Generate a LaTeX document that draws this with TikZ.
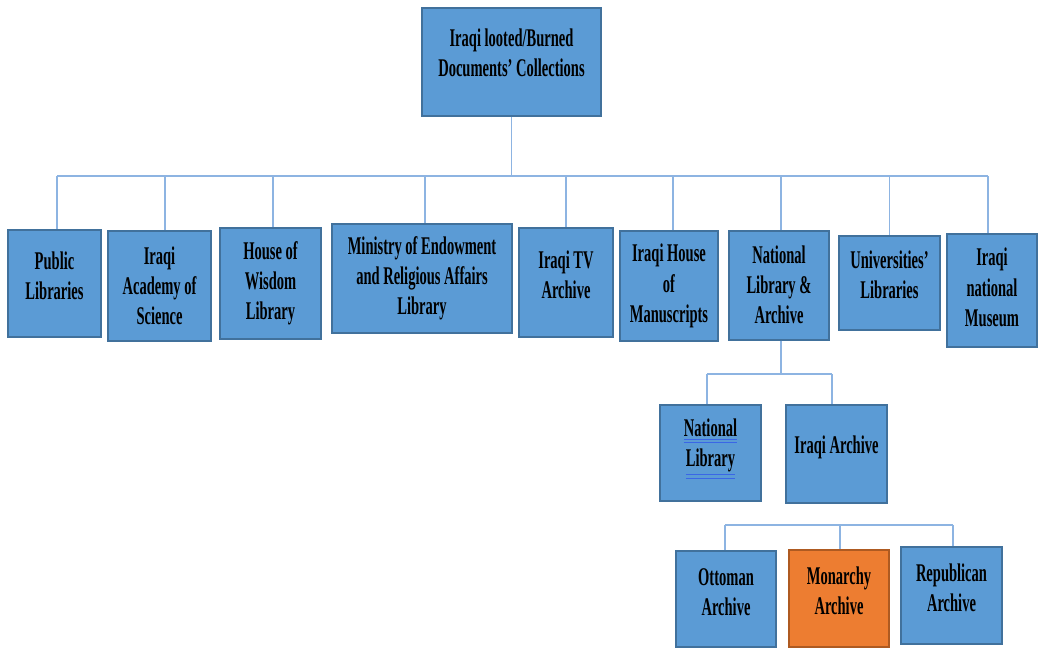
\documentclass[tikz,border=0pt]{standalone}
\usepackage{fontspec}
\setmainfont{Liberation Serif}[FakeStretch=0.57]
\usepackage{tikz}
\usetikzlibrary{calc}
\definecolor{boxblue}{HTML}{5B9BD5}
\definecolor{boxedge}{HTML}{41719C}
\definecolor{boxorange}{HTML}{ED7D31}
\definecolor{orangeedge}{HTML}{AE5A21}
\definecolor{linkline}{HTML}{8DB4E2}
\definecolor{ulblue}{HTML}{3A66E6}
\newcommand{\clrbox}{boxblue}
\newcommand{\clredge}{boxedge}
\newcommand{\linked}[1]{{\color{ulblue}\underline{\underline{\color{black}#1}}}}

\begin{document}
\begin{tikzpicture}[x=0.02cm, y=-0.02cm,
    box/.style={draw=\clredge, fill=\clrbox, line width=0.6pt, inner sep=0pt},
    boxtext/.style={align=center, inner sep=0pt, font=\fontsize{14.5}{17.2}\selectfont\bfseries},
    link/.style={draw=linkline, line width=0.8pt}]

        \useasboundingbox (0,0) rectangle (1038,647);

        % boxes
        \foreach \n/\x/\y/\w/\h/\s/\t in {
            top/511.5/62/179/108/9/{Iraqi looted/Burned\\Documents’ Collections},
            pub/54.5/283.5/93/107/8/{Public\\Libraries},
            acad/159.5/286/103/110/0/{Iraqi\\Academy of\\Science},
            wis/270.5/283.5/101/111/0/{House of\\Wisdom\\Library},
            min/422/278.5/180/109/0/{Ministry of Endowment\\and Religious Affairs\\Library},
            tv/566/282.5/94/109/8/{Iraqi TV\\Archive},
            manu/669/286/98/110/0/{Iraqi House\\of\\Manuscripts},
            nla/779/285.5/100/109/1/{National\\Library \&\\Archive},
            uni/889.5/283/101/94/8/{Universities’\\Libraries},
            mus/992/290.5/90/113/3/{Iraqi\\national\\Museum},
            nl/710.5/453/101/96/4/{\linked{National}\\\linked{Library}},
            ia/836.5/454/101/98/7/{Iraqi Archive},
            ott/726/599/100/96/7/{Ottoman\\Archive},
            rep/951.5/595.5/101/97/8/{Republican\\Archive}}
        {
            \node[box, minimum width=\w*0.02cm, minimum height=\h*0.02cm,
                label={[boxtext, yshift=\s*0.02cm]center:\t}] (\n) at (\x,\y) {};
        }
        \node[box, fill=boxorange, draw=orangeedge, minimum width=2cm, minimum height=1.94cm,
            label={[boxtext, yshift=0.16cm]center:Monarchy\\Archive}] (mon) at (839,598.5) {};

        % first level
        \coordinate (bus) at (511,176);
        \draw[link] (top.south) -- (top.south |- bus);
        \draw[link] ($(pub.north |- bus)+(2.5,0)$) -- ($(mus.north |- bus)+(-4,0)$);
        \foreach \n/\d in {pub/2.5,acad/5.5,wis/2.5,min/3,tv/0,manu/4,nla/2,uni/0,mus/-4} {
            \draw[link] ($(\n.north |- bus)+(\d,0)$) -- ($(\n.north)+(\d,0)$);
        }

        % national library & archive
        \coordinate (sub) at (781,374);
        \draw[link] ($(nla.south)+(2,0)$) -- (sub);
        \draw[link] ($(nl.north |- sub)+(-3.5,0)$) -- ($(ia.north |- sub)+(-4.5,0)$);
        \foreach \n/\d in {nl/-3.5,ia/-4.5} {
            \draw[link] ($(\n.north |- sub)+(\d,0)$) -- ($(\n.north)+(\d,0)$);
        }

        % archive periods
        \coordinate (arch) at (840,525);
        \draw[link] ($(ott.north |- arch)+(-1,0)$) -- ($(rep.north |- arch)+(1.5,0)$);
        \foreach \n/\d in {ott/-1,mon/1,rep/1.5} {
            \draw[link] ($(\n.north |- arch)+(\d,0)$) -- ($(\n.north)+(\d,0)$);
        }

\end{tikzpicture}
\end{document}
